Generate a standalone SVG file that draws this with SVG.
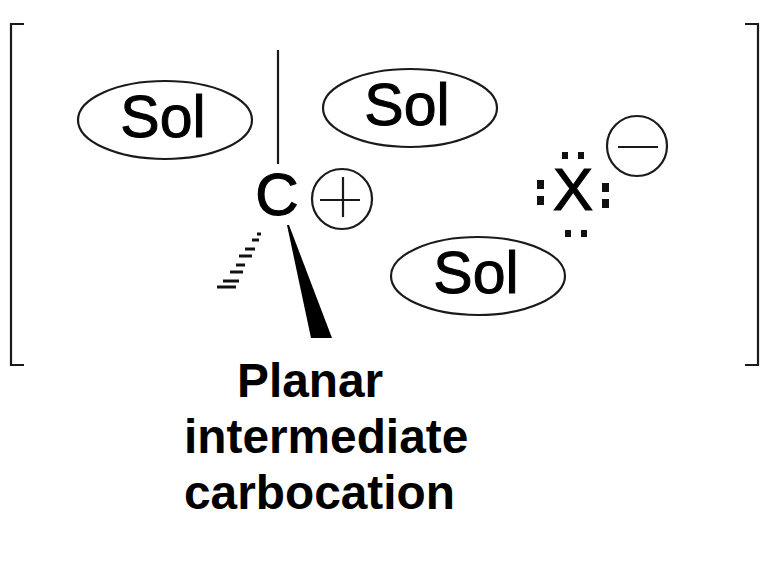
<svg xmlns="http://www.w3.org/2000/svg" width="770" height="571" viewBox="0 0 770 571">
<style>
.s{fill:none;stroke:#1a1a1a;stroke-width:2.2}
.l{font-family:"Liberation Sans",Arial,sans-serif;fill:#000}
.sol{font-size:59px;text-anchor:middle;stroke:#000;stroke-width:1}
.b{font-size:47.8px;font-weight:bold}
.d{fill:#111}
</style>
<rect width="770" height="571" fill="#fff"/>
<g id="brackets">
<path class="s" d="M24 24H11V365H24"/>
<path class="s" d="M745 24H758V365H745"/>
</g>
<g id="connectors">
<line class="s" x1="278" y1="50" x2="278" y2="164"/>
<path d="M287 225L289 225L332 338L311 338Z" fill="#000"/>
<g stroke="#111" stroke-width="3">
<line x1="257" y1="234" x2="261" y2="234"/>
<line x1="252" y1="240" x2="259" y2="240"/>
<line x1="245" y1="249" x2="255" y2="249"/>
<line x1="239" y1="256" x2="252" y2="256"/>
<line x1="236" y1="265" x2="245" y2="265"/>
<line x1="230" y1="272" x2="243" y2="272"/>
<line x1="223" y1="281" x2="239" y2="281"/>
<line x1="217" y1="287" x2="236" y2="287"/>
</g>
</g>
<g id="sol1"><ellipse class="s" cx="165" cy="120" rx="87" ry="39"/><text class="l sol" x="163" y="137">Sol</text></g>
<g id="sol2"><ellipse class="s" cx="410" cy="108" rx="87" ry="39"/><text class="l sol" x="407" y="125">Sol</text></g>
<g id="sol3"><ellipse class="s" cx="478" cy="276" rx="87" ry="39"/><text class="l sol" x="476" y="293">Sol</text></g>
<g id="carbon">
<text class="l" x="277" y="215" font-size="60" text-anchor="middle" stroke="#000" stroke-width="1.2">C</text>
<circle class="s" cx="342" cy="199" r="30"/>
<path class="s" d="M320 200H360M343 177V217"/>
</g>
<g id="halide">
<text class="l" x="573" y="210" font-size="60" text-anchor="middle" stroke="#000" stroke-width="1.2">X</text>
<g class="d">
<rect x="537" y="180" width="7" height="9"/><rect x="537" y="196" width="7" height="9"/>
<rect x="602" y="183" width="7" height="9"/><rect x="602" y="199" width="7" height="9"/>
<rect x="562" y="152" width="6" height="7"/><rect x="578" y="152" width="6" height="7"/>
<rect x="565" y="230" width="6" height="7"/><rect x="581" y="230" width="6" height="7"/>
</g>
<circle class="s" cx="637" cy="146" r="30"/>
<path class="s" d="M618 147H658"/>
</g>
<g id="caption" class="l b">
<text x="237" y="397">Planar</text>
<text x="184" y="453">intermediate</text>
<text x="184" y="509">carbocation</text>
</g>
</svg>
